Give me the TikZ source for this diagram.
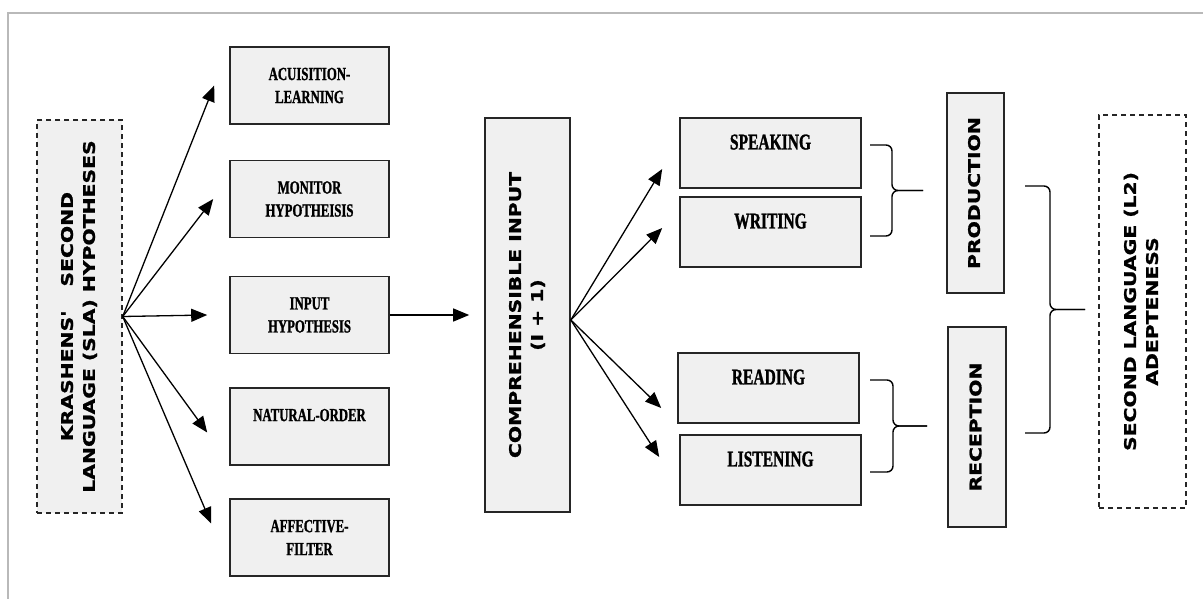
\documentclass[tikz,border=0pt]{standalone}
\usepackage{fontspec}
\usepackage{graphicx}
\usetikzlibrary{arrows.meta}
\newfontfamily\capserif[FakeStretch=0.69, BoldFeatures={FakeBold=1.2}]{Liberation Serif}
\newfontfamily\capsans[FakeStretch=1.27, BoldFeatures={FakeBold=1.2}]{DejaVu Sans}
\newcommand{\vtext}[1]{\rotatebox{90}{\begin{tabular}{@{}c@{}}#1\end{tabular}}}
\newcommand{\curlygroup}[5]{%
    \draw[curly] (#3,#1) -- (#4,#1) -- (#4,{(#1+#2)/2}) -- (#5,{(#1+#2)/2});
    \draw[curly] (#3,#2) -- (#4,#2) -- (#4,{(#1+#2)/2}) -- (#5,{(#1+#2)/2});}
\tikzset{
    hyp/.style={draw=black!85, fill=black!6, line width=1.6pt, minimum width=159pt, minimum height=77pt, inner sep=0pt, align=center, font=\capserif\bfseries\fontsize{18.5}{23}\selectfont},
    skill/.style={hyp, minimum width=181pt, minimum height=70pt, font=\capserif\bfseries\fontsize{22.5}{22}\selectfont},
    tall/.style={draw=black!85, fill=black!6, line width=1.6pt, inner sep=0pt, font=\capsans\bfseries\fontsize{16}{22}\selectfont},
    dashbox/.style={tall, dash pattern=on 5pt off 4pt, line width=1.4pt},
    fan/.style={-{Triangle[length=16pt,width=13pt]}, line width=1.3pt},
    curly/.style={line width=1.4pt, rounded corners=6pt}
}
\begin{document}
\begin{tikzpicture}[x=1pt, y=-1pt]
        \useasboundingbox (0,0) rectangle (1203,599);
        \draw[gray!55, line width=1.5pt] (1203,13) -- (8,13) -- (8,599);
        \node[dashbox, minimum width=85pt, minimum height=393pt] (krashen) at (79.5,316.5) {\vtext{KRASHENS'\hspace{24pt}SECOND\\LANGUAGE (SLA) HYPOTHESES}};
        \node[hyp] (acq) at (309.5,85.5) {ACUISITION-\\LEARNING};
        \node[hyp] (mon) at (309.5,199) {MONITOR\\HYPOTHEISIS};
        \node[hyp] (inp) at (309.5,315) {INPUT\\HYPOTHESIS};
        \node[hyp] (nat) at (309.5,426.5) {NATURAL-ORDER\\~};
        \node[hyp] (aff) at (309.5,537.5) {AFFECTIVE-\\FILTER};
        \node[tall, minimum width=85pt, minimum height=394pt] (comp) at (527.5,315) {\vtext{COMPREHENSIBLE INPUT\\(I + 1)}};
        \node[skill] (spk) at (770.5,153) {SPEAKING\\~};
        \node[skill] (wrt) at (770.5,232) {WRITING\\~};
        \node[skill] (rdg) at (768.5,388) {READING\\~};
        \node[skill] (lst) at (770.5,470) {LISTENING\\~};
        \node[tall, minimum width=57pt, minimum height=200pt] (prod) at (975.5,193) {\vtext{PRODUCTION}};
        \node[tall, minimum width=58pt, minimum height=200pt] (recp) at (977,427) {\vtext{RECEPTION}};
        \node[dashbox, fill=none, minimum width=87pt, minimum height=393pt] (adept) at (1142.5,311.5) {\vtext{SECOND LANGUAGE (L2)\\ADEPTENESS}};
        \foreach \tgt/\dx/\dy in {acq/-15/0, mon/-16/0, inp/-22/0, nat/-22/-6, aff/-18/14}
            \draw[fan] (krashen.east) -- ([xshift=\dx pt, yshift=\dy pt]\tgt.west);
        \draw[fan] (inp.east) -- ([xshift=-15pt]comp.west);
        \foreach \tgt/\dx/\dy in {spk/-17/-16, wrt/-17/4, rdg/-16/-20, lst/-20/13}
            \draw[fan] ([yshift=-5pt]comp.east) -- ([xshift=\dx pt, yshift=\dy pt]\tgt.west);
        \curlygroup{145}{236}{870}{892}{923}
        \curlygroup{380}{472}{870}{893}{927}
        \curlygroup{186}{433}{1025}{1050}{1085}
    \end{tikzpicture}
\end{document}
